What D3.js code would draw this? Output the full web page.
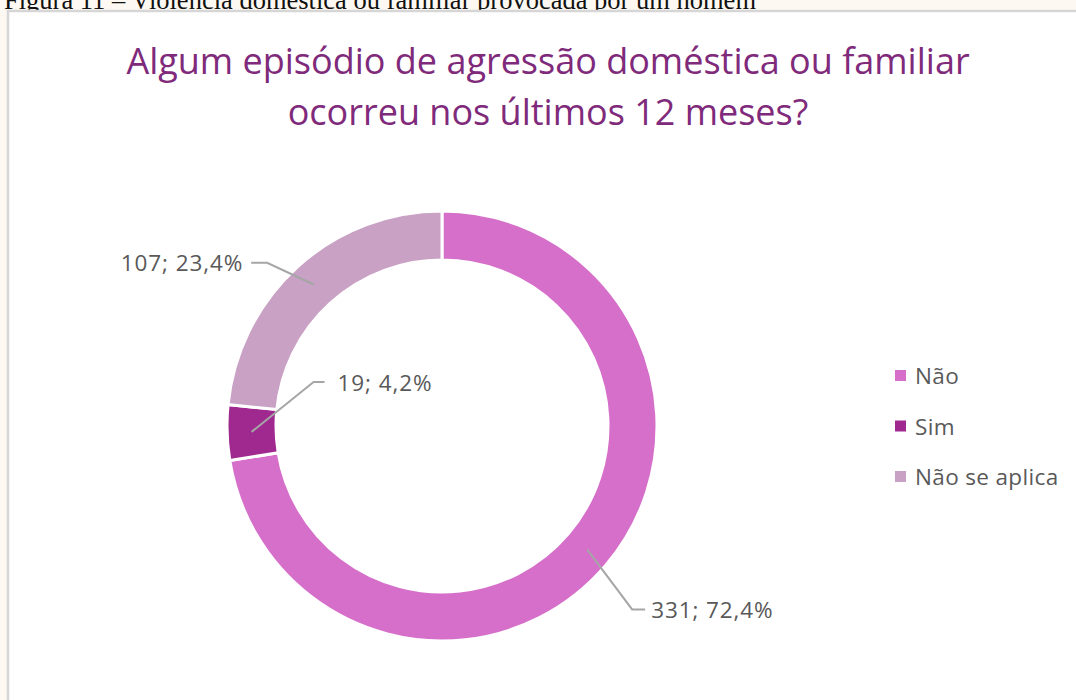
<!DOCTYPE html>
<html><head><meta charset="utf-8">
<script src="https://cdn.jsdelivr.net/npm/d3@7"></script>
<style>
html,body{margin:0;padding:0;background:#fdf9f2;}
svg{display:block;}
</style></head>
<body>
<svg id="c" width="1076" height="700"></svg>
<script>
const categories = ["Não", "Sim", "Não se aplica"];
const counts = [331, 19, 107];
const percents = ["72,4%", "4,2%", "23,4%"];
const colors = ["#d56fca", "#a0298f", "#c8a1c4"];
const titleLines = ["Algum episódio de agressão doméstica ou familiar", "ocorreu nos últimos 12 meses?"];
const caption = "Figura 11 – Violência doméstica ou familiar provocada por um homem";

const svg = d3.select("#c");
// caption (clipped at top, as in the source)
svg.append("text").attr("x", 4).attr("y", 9)
  .attr("font-family", "Liberation Serif, Times New Roman, serif")
  .attr("font-size", 26.5).attr("fill", "#111").text(caption);

// chart area
svg.append("rect").attr("x", 8).attr("y", 11).attr("width", 1080).attr("height", 700)
  .attr("fill", "#ffffff").attr("stroke", "#d6d6d6").attr("stroke-width", 2.5);

// title
svg.append("g").selectAll("text").data(titleLines).join("text")
  .attr("x", 548).attr("y", (d, i) => 74 + i * 51)
  .attr("text-anchor", "middle")
  .attr("font-family", "Open Sans, sans-serif")
  .attr("font-size", 36).attr("fill", "#7f2a7a")
  .text(d => d);

const cx = 442, cy = 426, rOut = 215, rIn = 166;
const data = categories.map((c, i) => ({cat: c, count: counts[i], pct: percents[i], color: colors[i]}));
const pie = d3.pie().value(d => d.count).sort(null);
const arcs = pie(data);
const arc = d3.arc().innerRadius(rIn).outerRadius(rOut);
const g = svg.append("g").attr("transform", `translate(${cx},${cy})`);
g.selectAll("path").data(arcs).join("path")
  .attr("d", arc).attr("fill", d => d.data.color)
  .attr("stroke", "#fff").attr("stroke-width", 3);

// leader lines and labels
const rMid = (rIn + rOut) / 2;
const layout = [
  {elbow: [45, 60], end: [58, 60], anchor: "start", tx: 64, ty: 9},
  {elbow: [62, -50], end: [73, -50], anchor: "start", tx: 86, ty: 9},
  {elbow: [-47, -22], end: [-63, -22], anchor: "end", tx: -71, ty: 8}
];
arcs.forEach((a, i) => {
  const m = (a.startAngle + a.endAngle) / 2;
  const px = rMid * Math.sin(m), py = -rMid * Math.cos(m);
  const L = layout[i];
  const ex = px + L.elbow[0], ey = py + L.elbow[1];
  const fx = px + L.end[0], fy = py + L.end[1];
  g.append("polyline").attr("points", `${px},${py} ${ex},${ey} ${fx},${fy}`)
    .attr("fill", "none").attr("stroke", "#a6a6a6").attr("stroke-width", 2);
  g.append("text").attr("x", px + L.tx).attr("y", py + L.elbow[1] + L.ty)
    .attr("text-anchor", L.anchor)
    .attr("font-family", "Open Sans, sans-serif").attr("font-size", 22.5)
    .attr("letter-spacing", 0.9)
    .attr("fill", "#595959")
    .text(`${a.data.count}; ${a.data.pct}`);
});

// legend
const leg = svg.append("g").attr("transform", "translate(895,376)");
const rows = leg.selectAll("g").data(data).join("g").attr("transform", (d, i) => `translate(0,${i * 50.5})`);
rows.append("rect").attr("x", 0).attr("y", -6).attr("width", 11).attr("height", 11).attr("fill", d => d.color);
rows.append("text").attr("x", 20).attr("y", 8)
  .attr("font-family", "Open Sans, sans-serif").attr("font-size", 22.5).attr("fill", "#595959")
  .attr("letter-spacing", 0.35)
  .text(d => d.cat);
</script>
</body></html>
